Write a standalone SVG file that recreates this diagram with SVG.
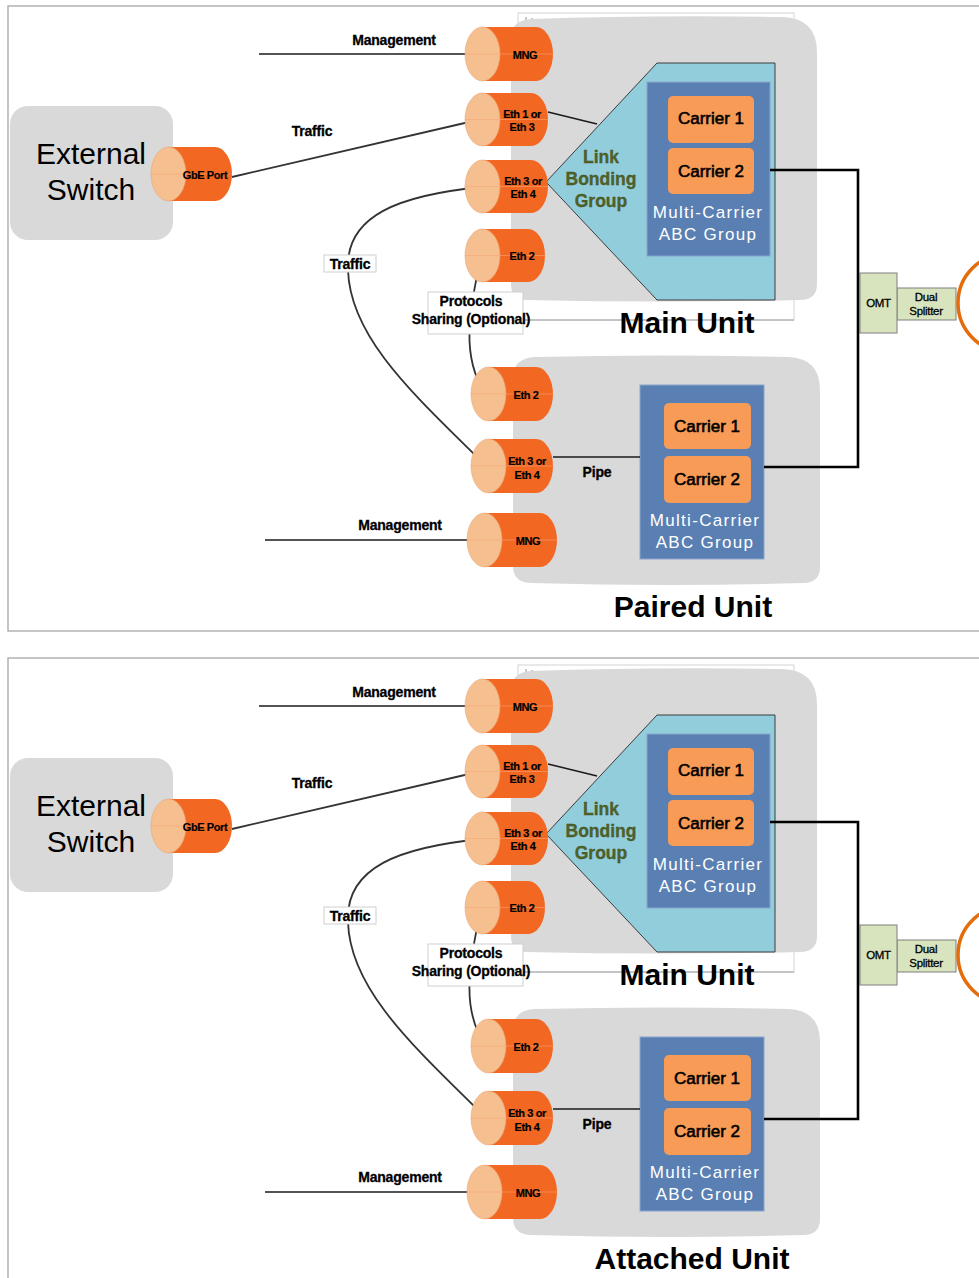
<svg xmlns="http://www.w3.org/2000/svg" width="979" height="1278" viewBox="0 0 979 1278">
  <style>
    .frame { fill: #ffffff; stroke: #a6a6a6; stroke-width: 1.3; }
    .unit-box { fill: #d9d9d9; }
    .outline { fill: none; stroke: #d4d4d4; stroke-width: 1; }
    .outline-base { stroke: #a0a0a0; stroke-width: 1; }
    .switch-box { fill: #d9d9d9; }
    .cyl-body { fill: #f26722; }
    .cyl-face { fill: #f6bf8f; stroke: #eba677; stroke-width: 0.6; }
    .cyl-seam { stroke: #f8a679; stroke-width: 0.8; opacity: 0.7; }
    .cyl-txt { font-family: "Liberation Sans", Arial, sans-serif; font-size: 11px; font-weight: bold; fill: #000; stroke: #000; stroke-width: 0.2; text-anchor: middle; letter-spacing: -0.4px; }
    .lbg { fill: #92cddc; stroke: #3c3c3c; stroke-width: 1; }
    .lbg-txt { font-family: "Liberation Sans", Arial, sans-serif; font-size: 17.5px; font-weight: bold; fill: #4f6228; stroke: #3f4f20; stroke-width: 0.3; text-anchor: middle; }
    .mc-box { fill: #5a7fb3; stroke: #8aa5cc; stroke-width: 1; }
    .carrier { fill: #f79b57; }
    .carrier-txt { font-family: "Liberation Sans", Arial, sans-serif; font-size: 17px; fill: #000; stroke: #000; stroke-width: 0.6; text-anchor: middle; }
    .mc-txt { font-family: "Liberation Sans", Arial, sans-serif; font-size: 17px; fill: #ffffff; text-anchor: middle; letter-spacing: 1.3px; }
    .lbl { font-family: "Liberation Sans", Arial, sans-serif; font-size: 14px; font-weight: bold; fill: #000; stroke: #000; stroke-width: 0.3; text-anchor: middle; letter-spacing: -0.2px; }
    .lbl-box { fill: #ffffff; stroke: #cfcfcf; stroke-width: 1; }
    .unit-txt { font-family: "Liberation Sans", Arial, sans-serif; font-size: 30px; font-weight: bold; fill: #000; text-anchor: middle; }
    .ext-txt { font-family: "Liberation Sans", Arial, sans-serif; font-size: 30px; fill: #000; text-anchor: middle; }
    .omt { fill: #d7e4bd; stroke: #7f7f7f; stroke-width: 1; }
    .omt-txt { font-family: "Liberation Sans", Arial, sans-serif; font-size: 11.5px; fill: #000; stroke: #000; stroke-width: 0.3; text-anchor: middle; letter-spacing: -0.3px; }
    .antenna { fill: none; stroke: #e46c0a; stroke-width: 3.5; }
    .wire { fill: none; stroke: #333333; stroke-width: 1.8; }
    .wire-thin { fill: none; stroke: #1a1a1a; stroke-width: 1.5; }
    .wire-thick { fill: none; stroke: #000000; stroke-width: 2.6; }
    .tick { stroke: #8c8c8c; stroke-width: 1; }
  </style>

  <!-- ===================== Upper scenario: Main + Paired unit ===================== -->
  <g id="panel-paired">
    <rect class="frame" x="8" y="6" width="990" height="625"/>

    <g id="main-unit-a">
      <rect class="outline" x="518" y="13" width="276" height="307"/>
      <line class="outline-base" x1="518" y1="320" x2="794" y2="320"/>
      <line class="tick" x1="526" y1="17" x2="526" y2="22"/>
      <line class="tick" x1="532" y1="18" x2="532" y2="19.5"/>
      <path class="unit-box" d="M531,19 Q650,15 782,17 Q817,18 817,52 V284 Q817,300 800,300 Q660,303 527,300 Q511,300 511,284 V39 Q511,20 531,19 Z"/>
      <text class="unit-txt" x="687" y="333">Main Unit</text>
    </g>

    <g id="switch-a">
      <rect class="switch-box" x="10" y="106" width="163" height="134" rx="18"/>
      <text class="ext-txt" x="91" y="164">External</text>
      <text class="ext-txt" x="91" y="200">Switch</text>
    </g>

    <g id="gbe-port-a">
      <path class="cyl-body" d="M168,147 H215 A17,27 0 0 1 215,201 H168 Z"/>
      <ellipse class="cyl-face" cx="168.5" cy="174" rx="17.5" ry="27"/>
      <line class="cyl-seam" x1="151" y1="174" x2="232" y2="174"/>
      <text class="cyl-txt" x="205" y="179">GbE Port</text>
    </g>

    <g id="link-bonding-a">
      <polygon class="lbg" points="657,63 775,63 775,300 657,300 546,182"/>
      <text class="lbg-txt" x="601" y="163">Link</text>
      <text class="lbg-txt" x="601" y="185">Bonding</text>
      <text class="lbg-txt" x="601" y="207">Group</text>
    </g>

    <g id="mc-group-a">
      <rect class="mc-box" x="647" y="82" width="123" height="174"/>
      <rect class="carrier" x="668" y="96" width="86" height="47" rx="5"/>
      <text class="carrier-txt" x="711" y="124">Carrier 1</text>
      <rect class="carrier" x="668" y="148" width="86" height="46" rx="5"/>
      <text class="carrier-txt" x="711" y="177">Carrier 2</text>
      <text class="mc-txt" x="708" y="218">Multi-Carrier</text>
      <text class="mc-txt" x="708" y="240">ABC Group</text>
    </g>

    <g id="paired-unit">
      <path class="unit-box" d="M535,357 Q660,354 788,357 Q820,358 820,390 V567 Q820,583 803,583 Q670,587 530,583 Q513,582 513,566 V378 Q513,358 535,357 Z"/>
      <text class="unit-txt" x="693" y="617">Paired Unit</text>
    </g>

    <g id="mc-group-p">
      <rect class="mc-box" x="640" y="385" width="124" height="174"/>
      <rect class="carrier" x="664" y="403" width="87" height="46" rx="5"/>
      <text class="carrier-txt" x="707" y="432">Carrier 1</text>
      <rect class="carrier" x="664" y="456" width="87" height="47" rx="5"/>
      <text class="carrier-txt" x="707" y="485">Carrier 2</text>
      <text class="mc-txt" x="705" y="526">Multi-Carrier</text>
      <text class="mc-txt" x="705" y="548">ABC Group</text>
    </g>

    <g id="odu-a">
      <rect class="omt" x="897" y="288" width="59" height="32"/>
      <text class="omt-txt" x="926" y="301">Dual</text>
      <text class="omt-txt" x="926" y="315">Splitter</text>
      <rect class="omt" x="860" y="273" width="37" height="60"/>
      <text class="omt-txt" x="878.5" y="307">OMT</text>
      <circle class="antenna" cx="1007" cy="303" r="49"/>
    </g>

    <!-- links -->
    <g id="connectors-a">
      <line class="wire-thin" x1="259" y1="54" x2="483" y2="54"/>
      <line class="wire-thin" x1="265" y1="540" x2="481" y2="540"/>
      <line class="wire" x1="232" y1="177" x2="482" y2="119"/>
      <line class="wire-thin" x1="548" y1="112" x2="597" y2="124"/>
      <path class="wire" d="M482,187 C400,195 345,215 348,270 C350,340 420,400 487,467"/>
      <path class="wire" d="M481,256 C470,310 460,355 485,393"/>
      <line class="wire-thin" x1="553" y1="457" x2="640" y2="457"/>
      <path class="wire-thick" d="M770,170 H858 V467 H764"/>
    </g>

    <!-- ports on the main unit -->
    <g id="port-mng-a">
      <path class="cyl-body" d="M482,27 H536 A17,27 0 0 1 536,81 H482 Z"/>
      <ellipse class="cyl-face" cx="482.5" cy="54" rx="17.5" ry="27"/>
      <line class="cyl-seam" x1="465" y1="54" x2="553" y2="54"/>
      <text class="cyl-txt" x="525" y="59">MNG</text>
    </g>
    <g id="port-eth13-a">
      <path class="cyl-body" d="M482,93 H531 A17,26.5 0 0 1 531,146 H482 Z"/>
      <ellipse class="cyl-face" cx="482.5" cy="119.5" rx="17.5" ry="26.5"/>
      <line class="cyl-seam" x1="465" y1="119.5" x2="548" y2="119.5"/>
      <text class="cyl-txt" x="522" y="118">Eth 1 or</text>
      <text class="cyl-txt" x="522" y="131">Eth 3</text>
    </g>
    <g id="port-eth34-a">
      <path class="cyl-body" d="M482,160 H531 A17,26.5 0 0 1 531,213 H482 Z"/>
      <ellipse class="cyl-face" cx="482.5" cy="186.5" rx="17.5" ry="26.5"/>
      <line class="cyl-seam" x1="465" y1="186.5" x2="548" y2="186.5"/>
      <text class="cyl-txt" x="523" y="185">Eth 3 or</text>
      <text class="cyl-txt" x="523" y="198">Eth 4</text>
    </g>
    <g id="port-eth2-a">
      <path class="cyl-body" d="M482,229 H528 A17,26.5 0 0 1 528,282 H482 Z"/>
      <ellipse class="cyl-face" cx="482.5" cy="255.5" rx="17.5" ry="26.5"/>
      <line class="cyl-seam" x1="465" y1="255.5" x2="545" y2="255.5"/>
      <text class="cyl-txt" x="522" y="260">Eth 2</text>
    </g>

    <!-- ports on the paired unit -->
    <g id="port-eth2-p">
      <path class="cyl-body" d="M488,367 H536 A17,27 0 0 1 536,421 H488 Z"/>
      <ellipse class="cyl-face" cx="488.5" cy="394" rx="17.5" ry="27"/>
      <line class="cyl-seam" x1="471" y1="394" x2="553" y2="394"/>
      <text class="cyl-txt" x="526" y="399">Eth 2</text>
    </g>
    <g id="port-eth34-p">
      <path class="cyl-body" d="M488,439 H536 A17,27 0 0 1 536,493 H488 Z"/>
      <ellipse class="cyl-face" cx="488.5" cy="466" rx="17.5" ry="27"/>
      <line class="cyl-seam" x1="471" y1="466" x2="553" y2="466"/>
      <text class="cyl-txt" x="527" y="465">Eth 3 or</text>
      <text class="cyl-txt" x="527" y="479">Eth 4</text>
    </g>
    <g id="port-mng-p">
      <path class="cyl-body" d="M484,513 H540 A17,27 0 0 1 540,567 H484 Z"/>
      <ellipse class="cyl-face" cx="484.5" cy="540" rx="17.5" ry="27"/>
      <line class="cyl-seam" x1="467" y1="540" x2="557" y2="540"/>
      <text class="cyl-txt" x="528" y="545">MNG</text>
    </g>

    <!-- link labels -->
    <g id="labels-a">
      <text class="lbl" x="394" y="45">Management</text>
      <text class="lbl" x="312" y="136">Traffic</text>
      <rect class="lbl-box" x="324" y="255" width="52" height="17"/>
      <text class="lbl" x="350" y="269">Traffic</text>
      <rect class="lbl-box" x="428" y="292" width="95" height="42"/>
      <text class="lbl" x="471" y="306">Protocols</text>
      <text class="lbl" x="471" y="324">Sharing (Optional)</text>
      <text class="lbl" x="597" y="477">Pipe</text>
      <text class="lbl" x="400" y="530">Management</text>
    </g>
  </g>

  <!-- ===================== Lower scenario: Main + Attached unit ===================== -->
  <g id="panel-attached" transform="translate(0,652)">
    <rect class="frame" x="8" y="6" width="990" height="640"/>

    <g id="main-unit-b">
      <rect class="outline" x="518" y="13" width="276" height="307"/>
      <line class="outline-base" x1="518" y1="320" x2="794" y2="320"/>
      <line class="tick" x1="526" y1="17" x2="526" y2="22"/>
      <line class="tick" x1="532" y1="18" x2="532" y2="19.5"/>
      <path class="unit-box" d="M531,19 Q650,15 782,17 Q817,18 817,52 V284 Q817,300 800,300 Q660,303 527,300 Q511,300 511,284 V39 Q511,20 531,19 Z"/>
      <text class="unit-txt" x="687" y="333">Main Unit</text>
    </g>

    <g id="switch-b">
      <rect class="switch-box" x="10" y="106" width="163" height="134" rx="18"/>
      <text class="ext-txt" x="91" y="164">External</text>
      <text class="ext-txt" x="91" y="200">Switch</text>
    </g>

    <g id="gbe-port-b">
      <path class="cyl-body" d="M168,147 H215 A17,27 0 0 1 215,201 H168 Z"/>
      <ellipse class="cyl-face" cx="168.5" cy="174" rx="17.5" ry="27"/>
      <line class="cyl-seam" x1="151" y1="174" x2="232" y2="174"/>
      <text class="cyl-txt" x="205" y="179">GbE Port</text>
    </g>

    <g id="link-bonding-b">
      <polygon class="lbg" points="657,63 775,63 775,300 657,300 546,182"/>
      <text class="lbg-txt" x="601" y="163">Link</text>
      <text class="lbg-txt" x="601" y="185">Bonding</text>
      <text class="lbg-txt" x="601" y="207">Group</text>
    </g>

    <g id="mc-group-b">
      <rect class="mc-box" x="647" y="82" width="123" height="174"/>
      <rect class="carrier" x="668" y="96" width="86" height="47" rx="5"/>
      <text class="carrier-txt" x="711" y="124">Carrier 1</text>
      <rect class="carrier" x="668" y="148" width="86" height="46" rx="5"/>
      <text class="carrier-txt" x="711" y="177">Carrier 2</text>
      <text class="mc-txt" x="708" y="218">Multi-Carrier</text>
      <text class="mc-txt" x="708" y="240">ABC Group</text>
    </g>

    <g id="attached-unit">
      <path class="unit-box" d="M535,357 Q660,354 788,357 Q820,358 820,390 V567 Q820,583 803,583 Q670,587 530,583 Q513,582 513,566 V378 Q513,358 535,357 Z"/>
      <text class="unit-txt" x="692" y="617">Attached Unit</text>
    </g>

    <g id="mc-group-t">
      <rect class="mc-box" x="640" y="385" width="124" height="174"/>
      <rect class="carrier" x="664" y="403" width="87" height="46" rx="5"/>
      <text class="carrier-txt" x="707" y="432">Carrier 1</text>
      <rect class="carrier" x="664" y="456" width="87" height="47" rx="5"/>
      <text class="carrier-txt" x="707" y="485">Carrier 2</text>
      <text class="mc-txt" x="705" y="526">Multi-Carrier</text>
      <text class="mc-txt" x="705" y="548">ABC Group</text>
    </g>

    <g id="odu-b">
      <rect class="omt" x="897" y="288" width="59" height="32"/>
      <text class="omt-txt" x="926" y="301">Dual</text>
      <text class="omt-txt" x="926" y="315">Splitter</text>
      <rect class="omt" x="860" y="273" width="37" height="60"/>
      <text class="omt-txt" x="878.5" y="307">OMT</text>
      <circle class="antenna" cx="1007" cy="303" r="49"/>
    </g>

    <g id="connectors-b">
      <line class="wire-thin" x1="259" y1="54" x2="483" y2="54"/>
      <line class="wire-thin" x1="265" y1="540" x2="481" y2="540"/>
      <line class="wire" x1="232" y1="177" x2="482" y2="119"/>
      <line class="wire-thin" x1="548" y1="112" x2="597" y2="124"/>
      <path class="wire" d="M482,187 C400,195 345,215 348,270 C350,340 420,400 487,467"/>
      <path class="wire" d="M481,256 C470,310 460,355 485,393"/>
      <line class="wire-thin" x1="553" y1="457" x2="640" y2="457"/>
      <path class="wire-thick" d="M770,170 H858 V467 H764"/>
    </g>

    <g id="port-mng-b">
      <path class="cyl-body" d="M482,27 H536 A17,27 0 0 1 536,81 H482 Z"/>
      <ellipse class="cyl-face" cx="482.5" cy="54" rx="17.5" ry="27"/>
      <line class="cyl-seam" x1="465" y1="54" x2="553" y2="54"/>
      <text class="cyl-txt" x="525" y="59">MNG</text>
    </g>
    <g id="port-eth13-b">
      <path class="cyl-body" d="M482,93 H531 A17,26.5 0 0 1 531,146 H482 Z"/>
      <ellipse class="cyl-face" cx="482.5" cy="119.5" rx="17.5" ry="26.5"/>
      <line class="cyl-seam" x1="465" y1="119.5" x2="548" y2="119.5"/>
      <text class="cyl-txt" x="522" y="118">Eth 1 or</text>
      <text class="cyl-txt" x="522" y="131">Eth 3</text>
    </g>
    <g id="port-eth34-b">
      <path class="cyl-body" d="M482,160 H531 A17,26.5 0 0 1 531,213 H482 Z"/>
      <ellipse class="cyl-face" cx="482.5" cy="186.5" rx="17.5" ry="26.5"/>
      <line class="cyl-seam" x1="465" y1="186.5" x2="548" y2="186.5"/>
      <text class="cyl-txt" x="523" y="185">Eth 3 or</text>
      <text class="cyl-txt" x="523" y="198">Eth 4</text>
    </g>
    <g id="port-eth2-b">
      <path class="cyl-body" d="M482,229 H528 A17,26.5 0 0 1 528,282 H482 Z"/>
      <ellipse class="cyl-face" cx="482.5" cy="255.5" rx="17.5" ry="26.5"/>
      <line class="cyl-seam" x1="465" y1="255.5" x2="545" y2="255.5"/>
      <text class="cyl-txt" x="522" y="260">Eth 2</text>
    </g>

    <g id="port-eth2-t">
      <path class="cyl-body" d="M488,367 H536 A17,27 0 0 1 536,421 H488 Z"/>
      <ellipse class="cyl-face" cx="488.5" cy="394" rx="17.5" ry="27"/>
      <line class="cyl-seam" x1="471" y1="394" x2="553" y2="394"/>
      <text class="cyl-txt" x="526" y="399">Eth 2</text>
    </g>
    <g id="port-eth34-t">
      <path class="cyl-body" d="M488,439 H536 A17,27 0 0 1 536,493 H488 Z"/>
      <ellipse class="cyl-face" cx="488.5" cy="466" rx="17.5" ry="27"/>
      <line class="cyl-seam" x1="471" y1="466" x2="553" y2="466"/>
      <text class="cyl-txt" x="527" y="465">Eth 3 or</text>
      <text class="cyl-txt" x="527" y="479">Eth 4</text>
    </g>
    <g id="port-mng-t">
      <path class="cyl-body" d="M484,513 H540 A17,27 0 0 1 540,567 H484 Z"/>
      <ellipse class="cyl-face" cx="484.5" cy="540" rx="17.5" ry="27"/>
      <line class="cyl-seam" x1="467" y1="540" x2="557" y2="540"/>
      <text class="cyl-txt" x="528" y="545">MNG</text>
    </g>

    <g id="labels-b">
      <text class="lbl" x="394" y="45">Management</text>
      <text class="lbl" x="312" y="136">Traffic</text>
      <rect class="lbl-box" x="324" y="255" width="52" height="17"/>
      <text class="lbl" x="350" y="269">Traffic</text>
      <rect class="lbl-box" x="428" y="292" width="95" height="42"/>
      <text class="lbl" x="471" y="306">Protocols</text>
      <text class="lbl" x="471" y="324">Sharing (Optional)</text>
      <text class="lbl" x="597" y="477">Pipe</text>
      <text class="lbl" x="400" y="530">Management</text>
    </g>
  </g>
</svg>
